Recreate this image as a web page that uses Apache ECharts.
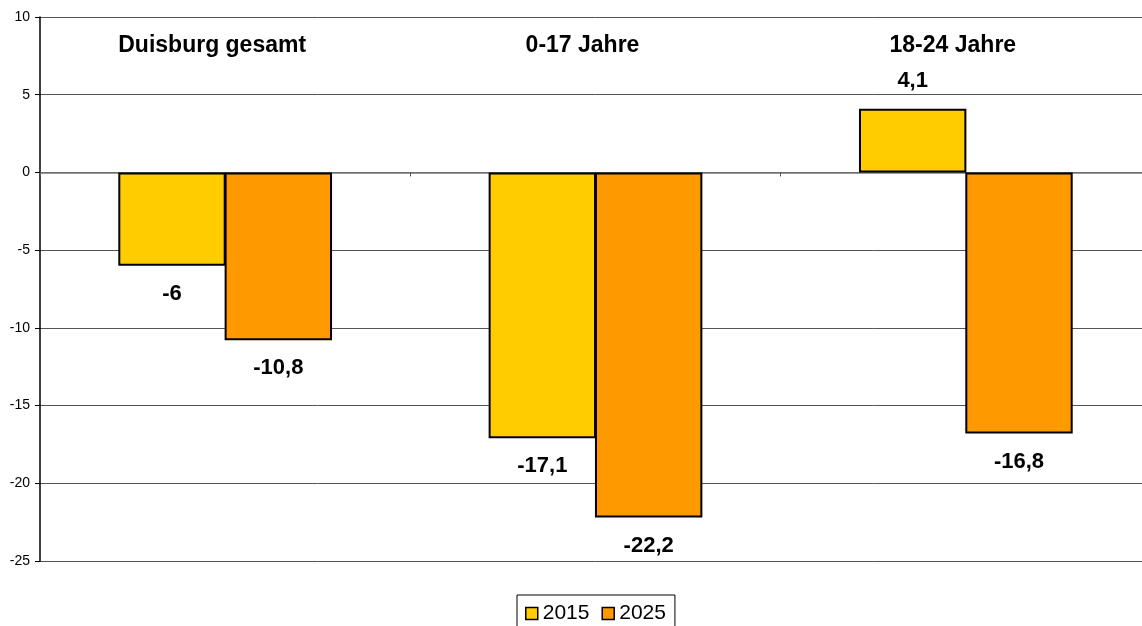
<!DOCTYPE html>
<html>
<head>
<meta charset="utf-8">
<script src="https://cdn.jsdelivr.net/npm/echarts@6/dist/echarts.min.js"></script>
<style>
  html, body { margin: 0; padding: 0; background: #fff; overflow: hidden; }
  /* Plotbereich reicht rechts etwas über den Rand hinaus */
  #chart { width: 1152px; height: 626px; }
</style>
</head>
<body>
<div id="chart"></div>
<script>
// Kategorien und Werte (Veränderung in %)
const categories = ["Duisburg gesamt", "0-17 Jahre", "18-24 Jahre"];
const values2015 = [-6, -17.1, 4.1];
const values2025 = [-10.8, -22.2, -16.8];
const seriesNames = ["2015", "2025"];

const chart = echarts.init(document.getElementById("chart"));

// Beschriftung mit Komma als Dezimaltrenner
const fmt = p => String(p.value).replace(".", ",");

function makeSeries(name, data, color) {
  return {
    name: name,
    type: "bar",
    data: data,
    xAxisIndex: 0,
    barWidth: "29%",
    barGap: "-1%",
    itemStyle: { color: color, borderColor: "#000", borderWidth: 2 },
    label: {
      show: true,
      position: "outside",
      distance: 17,
      formatter: fmt,
      fontFamily: "Liberation Sans, Arial",
      fontWeight: "bold",
      fontSize: 22,
      color: "#000"
    }
  };
}

chart.setOption({
  animation: false,
  textStyle: { fontFamily: "Liberation Sans, Arial" },
  grid: { left: 40, right: 1, top: 17, bottom: 65, containLabel: false },
  legend: {
    data: seriesNames,
    top: 595,
    left: 517,
    borderColor: "#000",
    borderWidth: 1,
    padding: [8, 9, 10, 8],
    itemGap: 12,
    itemWidth: 12,
    itemHeight: 12,
    icon: "rect",
    itemStyle: { borderColor: "#000", borderWidth: 1.5 },
    textStyle: { fontSize: 21, color: "#000" }
  },
  xAxis: [
    {
      // Kategorienamen oben im Diagramm (leicht nach links versetzt)
      type: "category",
      data: categories,
      position: "top",
      axisLine: { show: false, onZero: false },
      axisTick: { show: false },
      axisLabel: {
        inside: true,
        margin: 17,
        fontSize: 23,
        fontWeight: "bold",
        color: "#000",
        padding: [0, 26, 0, 0]
      }
    },
    {
      // Nulllinie mit Teilstrichen
      type: "category",
      data: categories,
      position: "bottom",
      axisLine: { show: true, onZero: true, lineStyle: { color: "#777", width: 1.5 } },
      axisTick: { show: true, length: 4, lineStyle: { color: "#555" } },
      axisLabel: { show: false }
    }
  ],
  yAxis: {
    type: "value",
    min: -25,
    max: 10,
    interval: 5,
    axisLine: { show: true, lineStyle: { color: "#000", width: 1.5 } },
    axisTick: { show: true, length: 5, lineStyle: { color: "#000" } },
    axisLabel: { fontSize: 14, color: "#000", margin: 10 },
    splitLine: { show: true, lineStyle: { color: "#555", width: 1 } }
  },
  series: [
    makeSeries(seriesNames[0], values2015, "#FFCC00"),
    makeSeries(seriesNames[1], values2025, "#FF9900")
  ]
});
</script>
</body>
</html>
